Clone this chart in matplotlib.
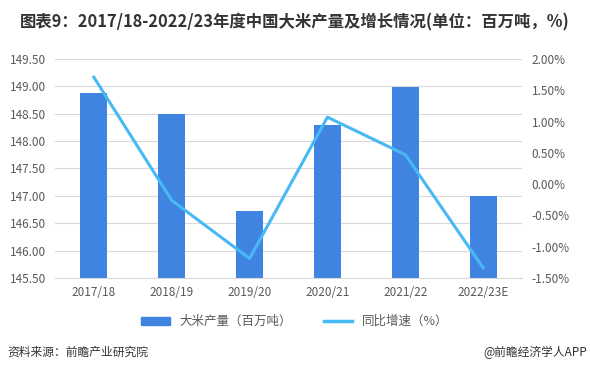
import matplotlib
matplotlib.use("Agg")
import matplotlib.pyplot as plt
from matplotlib.ticker import FuncFormatter, MultipleLocator
from matplotlib.lines import Line2D
from matplotlib.patches import Patch

plt.rcParams['font.family'] = ['Noto Sans CJK SC', 'DejaVu Sans']

categories = ["2017/18", "2018/19", "2019/20", "2020/21", "2021/22", "2022/23E"]
production = [148.87, 148.49, 146.73, 148.30, 148.99, 147.00]
growth = [1.71, -0.26, -1.19, 1.07, 0.47, -1.34]

bar_color = "#3F84E1"
line_color = "#47B9F4"
tick_color = "#595959"

fig = plt.figure(figsize=(5.9, 3.76), dpi=100)
ax = fig.add_axes([0.093, 0.261, 0.792, 0.582])
x = list(range(len(categories)))
ax.bar(x, [p - 145.5 for p in production], bottom=145.5, width=0.35, color=bar_color, zorder=2)
ax.set_ylim(145.5, 149.5)
ax.yaxis.set_major_locator(MultipleLocator(0.5))
ax.yaxis.set_major_formatter(FuncFormatter(lambda v, p: f"{v:.2f}"))
ax.set_xlim(-0.5, len(categories) - 0.5)
ax.set_xticks(x)
ax.set_xticklabels(categories)
ax.grid(axis='y', color="#D9D9D9", linewidth=0.8, zorder=0)
for s in ax.spines.values():
    s.set_visible(False)
ax.spines['bottom'].set_visible(True)
ax.spines['bottom'].set_color("#D9D9D9")
ax.tick_params(axis='both', length=0, labelsize=8.5, colors=tick_color, pad=6)

ax2 = ax.twinx()
ax2.plot(x, growth, color=line_color, linewidth=2.2, zorder=3)
ax2.set_ylim(-1.5, 2.0)
ax2.yaxis.set_major_locator(MultipleLocator(0.5))
ax2.yaxis.set_major_formatter(FuncFormatter(lambda v, p: f"{v:.2f}%"))
for s in ax2.spines.values():
    s.set_visible(False)
ax2.tick_params(axis='y', length=0, labelsize=8.5, colors=tick_color, pad=7)

fig.text(0.5, 0.94, "图表9：2017/18-2022/23年度中国大米产量及增长情况(单位：百万吨，%)",
         ha='center', va='center', fontsize=11.8, fontweight='bold', color="#333333")

handles = [Patch(color=bar_color), Line2D([0], [0], color=line_color, linewidth=2.5)]
fig.legend(handles, ["大米产量（百万吨）", "同比增速（%）"], loc='center',
           bbox_to_anchor=(0.5, 0.145), ncol=2, frameon=False, fontsize=9,
           handlelength=2.3, handleheight=0.6, columnspacing=2.5, labelcolor=tick_color)

fig.text(0.012, 0.063, "资料来源：前瞻产业研究院", ha='left', va='center', fontsize=8.5, color="#333333")
fig.text(0.995, 0.063, "@前瞻经济学人APP", ha='right', va='center', fontsize=8.5, color="#333333")

fig.savefig("out.png", dpi=100)
